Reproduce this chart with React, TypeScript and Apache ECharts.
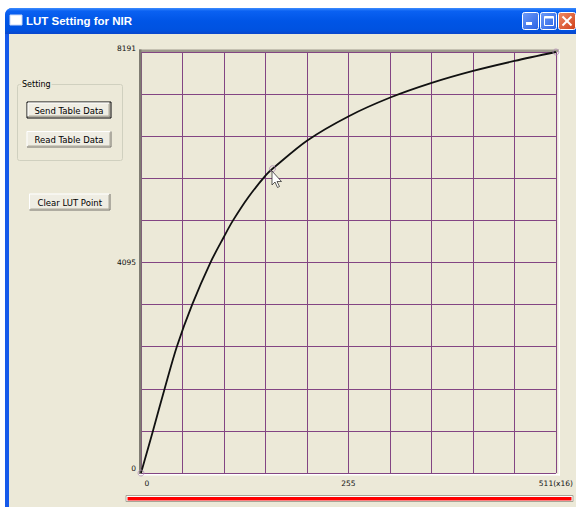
import React, { useEffect, useRef } from 'react';
import * as echarts from 'echarts';

// ---- data ----
const lutX = [0, 14.7, 29.1, 44.1, 63, 85.5, 102.2, 112.8, 132.4, 153.8, 162, 204.8, 255.9, 307, 358, 409, 460, 511];
const lutY = [0, 819, 1638, 2457, 3276, 4095, 4597, 4900, 5370, 5796, 5920, 6470, 6942, 7305, 7590, 7823, 8017, 8191];
const ctrlX = [0, 162, 511];
const ctrlY = [0, 5920, 8191];
const xTickLabels = ['0', '255', '511(x16)'];
const yTickLabels = ['0', '4095', '8191'];
const buttonLabels = ['Send Table Data', 'Read Table Data', 'Clear LUT Point'];
const windowTitle = 'LUT Setting for NIR';
const groupLabel = 'Setting';

const BG = '#ECE9D8';
const GRID = '#834583';
const FONT = 'DejaVu Sans';

function makeButton(x: number, y: number, w: number, h: number, label: string, isDefault: boolean) {
  const x1 = x + 0.5, y1 = y + 0.5, x2 = x + w - 0.5, y2 = y + h - 0.5;
  const els: any[] = [];
  els.push({ type: 'rect', shape: { x, y, width: w, height: h }, style: { fill: '#EFEDE3' }, z: 1 });
  let ix1 = x1, iy1 = y1, ix2 = x2, iy2 = y2;
  if (isDefault) {
    els.push({ type: 'rect', shape: { x: x1, y: y1, width: w - 1, height: h - 1 }, style: { fill: 'none', stroke: '#000', lineWidth: 1 }, z: 2 });
    ix1 += 1; iy1 += 1; ix2 -= 1; iy2 -= 1;
  }
  els.push({ type: 'polyline', shape: { points: [[ix1, iy2 - 1], [ix1, iy1], [ix2 - 1, iy1]] }, style: { stroke: '#FFFFFF', lineWidth: 1, fill: 'none' }, z: 2 });
  els.push({ type: 'polyline', shape: { points: [[ix1, iy2], [ix2, iy2], [ix2, iy1]] }, style: { stroke: '#716F64', lineWidth: 1, fill: 'none' }, z: 2 });
  els.push({ type: 'polyline', shape: { points: [[ix1 + 1, iy2 - 1], [ix2 - 1, iy2 - 1], [ix2 - 1, iy1 + 1]] }, style: { stroke: '#ACA899', lineWidth: 1, fill: 'none' }, z: 2 });
  els.push({
    type: 'text', x: x + w / 2, y: y + h / 2 + 0.5, z: 3,
    style: { text: label, fill: '#000', font: `8.5px "${FONT}"`, align: 'center', verticalAlign: 'middle' },
  });
  return els;
}

export default function App() {
  const ref = useRef<HTMLDivElement>(null);
  useEffect(() => {
    if (!ref.current) return;
    const chart = echarts.init(ref.current, undefined, { renderer: 'svg' });

    const graphics: any[] = [
      // window frame and body
      { type: 'rect', shape: { x: 5, y: 8, width: 580, height: 510, r: [7, 7, 0, 0] }, style: { fill: '#1559EA' }, z: -5 },
      {
        type: 'rect', shape: { x: 5, y: 8, width: 580, height: 26, r: [7, 7, 0, 0] }, z: -4,
        style: {
          fill: {
            type: 'linear', x: 0, y: 0, x2: 0, y2: 1,
            colorStops: [
              { offset: 0, color: '#3C8CFE' }, { offset: 0.12, color: '#0A61F2' },
              { offset: 0.5, color: '#0055E6' }, { offset: 0.85, color: '#0052E0' }, { offset: 1, color: '#0A46CC' },
            ],
          },
        },
      },
      { type: 'rect', shape: { x: 9, y: 34, width: 580, height: 480 }, style: { fill: BG }, z: -3 },
      // title icon
      { type: 'rect', shape: { x: 10, y: 15, width: 12, height: 10 }, style: { fill: '#FFFFFF', stroke: '#C8D8F8', lineWidth: 1 }, z: 1 },
      {
        type: 'text', x: 26, y: 21, z: 1,
        style: { text: windowTitle, fill: '#FFFFFF', font: `bold 11.5px "Liberation Sans"`, align: 'left', verticalAlign: 'middle' },
      },
      // caption buttons
      {
        type: 'rect', shape: { x: 522.5, y: 12.5, width: 16, height: 17, r: 2 }, z: 1,
        style: { fill: { type: 'linear', x: 0, y: 0, x2: 1, y2: 1, colorStops: [{ offset: 0, color: '#6F9CF8' }, { offset: 1, color: '#2861E4' }] }, stroke: '#FFFFFF', lineWidth: 1 },
      },
      { type: 'rect', shape: { x: 526, y: 22, width: 6, height: 3 }, style: { fill: '#FFFFFF' }, z: 2 },
      {
        type: 'rect', shape: { x: 540.5, y: 12.5, width: 16, height: 17, r: 2 }, z: 1,
        style: { fill: { type: 'linear', x: 0, y: 0, x2: 1, y2: 1, colorStops: [{ offset: 0, color: '#6F9CF8' }, { offset: 1, color: '#2861E4' }] }, stroke: '#FFFFFF', lineWidth: 1 },
      },
      { type: 'rect', shape: { x: 544.5, y: 16.5, width: 9, height: 9 }, style: { fill: 'none', stroke: '#FFFFFF', lineWidth: 1 }, z: 2 },
      { type: 'rect', shape: { x: 544.5, y: 16.5, width: 9, height: 2 }, style: { fill: '#FFFFFF' }, z: 2 },
      {
        type: 'rect', shape: { x: 558.5, y: 12.5, width: 17, height: 17, r: 2 }, z: 1,
        style: { fill: { type: 'linear', x: 0, y: 0, x2: 1, y2: 1, colorStops: [{ offset: 0, color: '#F08C66' }, { offset: 1, color: '#CF3F19' }] }, stroke: '#FFFFFF', lineWidth: 1 },
      },
      { type: 'line', shape: { x1: 562.5, y1: 16.5, x2: 571.5, y2: 25.5 }, style: { stroke: '#FFFFFF', lineWidth: 2 }, z: 2 },
      { type: 'line', shape: { x1: 571.5, y1: 16.5, x2: 562.5, y2: 25.5 }, style: { stroke: '#FFFFFF', lineWidth: 2 }, z: 2 },
      // group box
      { type: 'rect', shape: { x: 17.5, y: 84.5, width: 105, height: 76, r: 2 }, style: { fill: 'none', stroke: '#D0D0BF', lineWidth: 1 }, z: 1 },
      {
        type: 'text', x: 21, y: 84.5, z: 2,
        style: { text: groupLabel, fill: '#000', font: `8px "${FONT}"`, align: 'left', verticalAlign: 'middle', backgroundColor: BG, padding: [0, 1, 0, 1] },
      },
      ...makeButton(26.5, 101.5, 85, 17, buttonLabels[0], true),
      ...makeButton(26.5, 131, 85, 16.5, buttonLabels[1], false),
      ...makeButton(29, 193.5, 81.5, 17, buttonLabels[2], false),
      // sunken plot frame
      { type: 'rect', shape: { x: 139, y: 49.5, width: 420, height: 2.5 }, style: { fill: '#9D9A8C' }, z: 1 },
      { type: 'rect', shape: { x: 139, y: 49.5, width: 2.5, height: 425 }, style: { fill: '#7F7C72' }, z: 1 },
      { type: 'rect', shape: { x: 558.5, y: 50, width: 1.5, height: 425.5 }, style: { fill: '#FFFFFF' }, z: 1 },
      { type: 'rect', shape: { x: 139, y: 474, width: 421, height: 1.5 }, style: { fill: '#FFFFFF' }, z: 1 },
      // progress bar
      { type: 'rect', shape: { x: 126, y: 495.5, width: 447, height: 6 }, style: { fill: '#FFFFFF', stroke: '#A8A597', lineWidth: 1 }, z: 1 },
      { type: 'rect', shape: { x: 127.5, y: 497, width: 444, height: 3.5 }, style: { fill: '#FF0000' }, z: 2 },
      // mouse cursor
      {
        type: 'polygon', x: 272, y: 171, z: 20,
        shape: { points: [[0, 0], [0, 14], [3, 11], [5.5, 16.5], [7.5, 15.5], [5, 10.5], [9.5, 10.5]] },
        style: { fill: '#FFFFFF', stroke: '#333', lineWidth: 0.8 },
      },
    ];

    const option: any = {
      animation: false,
      backgroundColor: '#FFFFFF',
      grid: { left: 141, top: 52, width: 417, height: 421, containLabel: false },
      xAxis: {
        type: 'value', min: 0, max: 511, interval: 51.1,
        axisLine: { show: false }, axisTick: { show: false },
        splitLine: { show: true, lineStyle: { color: GRID, width: 1 } },
        axisLabel: {
          margin: 6, fontFamily: FONT, fontSize: 7.5, color: '#111', showMinLabel: true, showMaxLabel: true,
          formatter: (v: number) => {
            if (Math.abs(v) < 0.5) return '{z|' + xTickLabels[0] + '}';
            if (Math.abs(v - 255.5) < 1) return xTickLabels[1];
            if (Math.abs(v - 511) < 1) return xTickLabels[2];
            return '';
          },
          rich: { z: { fontFamily: FONT, fontSize: 7.5, color: '#111', padding: [0, 0, 0, 12] } },
        },
      },
      yAxis: {
        type: 'value', min: 0, max: 8191, interval: 819.1,
        axisLine: { show: false }, axisTick: { show: false },
        splitLine: { show: true, lineStyle: { color: GRID, width: 1 } },
        axisLabel: {
          margin: 5, fontFamily: FONT, fontSize: 7.5, color: '#111', showMinLabel: true, showMaxLabel: true,
          formatter: (v: number) => {
            if (Math.abs(v) < 0.5) return '{z|' + yTickLabels[0] + '}';
            if (Math.abs(v - 4095.5) < 1) return yTickLabels[1];
            if (Math.abs(v - 8191) < 1) return '{t|' + yTickLabels[2] + '}';
            return '';
          },
          rich: {
            z: { fontFamily: FONT, fontSize: 7.5, color: '#111', padding: [0, 0, 10, 0] },
            t: { fontFamily: FONT, fontSize: 7.5, color: '#111', padding: [0, 0, 7, 0] },
          },
        },
      },
      graphic: { elements: graphics },
      series: [
        {
          type: 'line', data: lutX.map((x, i) => [x, lutY[i]]),
          smooth: 0.3, symbol: 'none',
          lineStyle: { color: '#111111', width: 1.8 }, z: 3, silent: true,
        },
        {
          type: 'scatter', data: ctrlX.map((x, i) => [x, ctrlY[i]]),
          symbol: 'circle', symbolSize: 6,
          itemStyle: { color: 'rgba(0,0,0,0)', borderColor: '#B08CB4', borderWidth: 1 }, z: 4, silent: true,
        },
      ],
    };
    chart.setOption(option);
    return () => chart.dispose();
  }, []);
  return <div ref={ref} style={{ position: 'fixed', left: 0, top: 0, width: 576, height: 507 }} />;
}
